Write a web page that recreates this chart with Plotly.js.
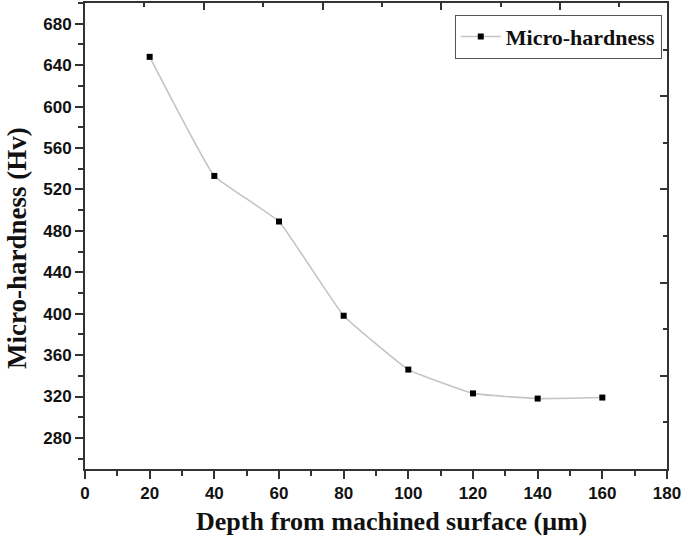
<!DOCTYPE html>
<html>
<head>
<meta charset="utf-8">
<script src="https://cdn.plot.ly/plotly-3.0.1.min.js"></script>
<style>
  html, body { margin: 0; padding: 0; background: #fff; }
  #plot { width: 685px; height: 540px; }
</style>
</head>
<body>
<div id="plot"></div>
<script>
const depth = [20, 40, 60, 80, 100, 120, 140, 160];
const hardness = [648, 533, 489, 398, 346, 323, 318, 319];

const xTicks = [0, 20, 40, 60, 80, 100, 120, 140, 160, 180];
const yTicks = [280, 320, 360, 400, 440, 480, 520, 560, 600, 640, 680];

const axisColor = '#333333';
const serif = 'Liberation Serif, Times New Roman, serif';
const sans = 'Liberation Sans, Arial, sans-serif';

const trace = {
    x: depth,
    y: hardness,
    mode: 'lines+markers',
    type: 'scatter',
    name: '<b>Micro-hardness</b>',
    line: { color: '#c4c4c4', width: 1.6, shape: 'spline', smoothing: 0.3 },
    marker: { symbol: 'square', size: 6, color: '#000' }
};

// dummy traces so the top and right frame axes get drawn
const topDummy = { x: [0], y: [0], xaxis: 'x2', yaxis: 'y', mode: 'markers', marker: { opacity: 0 }, showlegend: false, hoverinfo: 'skip' };
const rightDummy = { x: [0], y: [0], xaxis: 'x', yaxis: 'y2', mode: 'markers', marker: { opacity: 0 }, showlegend: false, hoverinfo: 'skip' };

const layout = {
    width: 685,
    height: 540,
    margin: { l: 85, r: 18, t: 3, b: 71 },
    paper_bgcolor: '#fff',
    plot_bgcolor: '#fff',
    showlegend: true,
    legend: {
        x: 0.991, xanchor: 'right',
        y: 0.975, yanchor: 'top',
        bordercolor: '#555', borderwidth: 1,
        bgcolor: '#fff',
        font: { family: serif, size: 22, color: '#111' },
        itemwidth: 40,
        tracegroupgap: 0
    },
    xaxis: {
        range: [0, 180],
        tickvals: xTicks,
        ticktext: xTicks.map(v => '<b>' + v + '</b>'),
        ticks: 'outside', ticklen: 8, tickwidth: 2, tickcolor: axisColor,
        minor: { dtick: 10, ticks: 'outside', ticklen: 5, tickwidth: 2, tickcolor: axisColor },
        showline: true, linewidth: 2, linecolor: axisColor,
        showgrid: false, zeroline: false,
        tickfont: { family: sans, size: 17, color: '#111' }
    },
    yaxis: {
        range: [250, 700],
        tickvals: yTicks,
        ticktext: yTicks.map(v => '<b>' + v + '</b>'),
        ticks: 'outside', ticklen: 8, tickwidth: 2, tickcolor: axisColor,
        minor: { tick0: 260, dtick: 20, ticks: 'outside', ticklen: 5, tickwidth: 2, tickcolor: axisColor },
        showline: true, linewidth: 2, linecolor: axisColor,
        showgrid: false, zeroline: false,
        tickfont: { family: sans, size: 17, color: '#111' }
    },
    xaxis2: {
        overlaying: 'x', side: 'top', anchor: 'y',
        range: [0, 9.8],
        tick0: 0, dtick: 2,
        ticks: 'inside', ticklen: 7, tickwidth: 2, tickcolor: axisColor,
        minor: { dtick: 1, ticks: 'inside', ticklen: 4, tickwidth: 2, tickcolor: axisColor },
        showline: true, linewidth: 2, linecolor: axisColor,
        showticklabels: false, showgrid: false, zeroline: false
    },
    yaxis2: {
        overlaying: 'y', side: 'right', anchor: 'x',
        range: [0, 10],
        tick0: 0, dtick: 2,
        ticks: 'inside', ticklen: 7, tickwidth: 2, tickcolor: axisColor,
        minor: { dtick: 1, ticks: 'inside', ticklen: 4, tickwidth: 2, tickcolor: axisColor },
        showline: true, linewidth: 2, linecolor: axisColor,
        showticklabels: false, showgrid: false, zeroline: false
    },
    // axis titles as annotations, placed like the original figure
    annotations: [
        {
            text: '<b>Depth from machined surface (μm)</b>',
            xref: 'paper', yref: 'paper', x: 0.527, y: -0.112,
            xanchor: 'center', yanchor: 'middle', showarrow: false,
            font: { family: serif, size: 26, color: '#111' }
        },
        {
            text: '<b>Micro-hardness (Hv)</b>',
            xref: 'paper', yref: 'paper', x: -0.117, y: 0.474,
            xanchor: 'center', yanchor: 'middle', showarrow: false, textangle: -90,
            font: { family: serif, size: 27, color: '#111' }
        }
    ]
};

Plotly.newPlot('plot', [trace, topDummy, rightDummy], layout, { displayModeBar: false, staticPlot: true });
</script>
</body>
</html>
